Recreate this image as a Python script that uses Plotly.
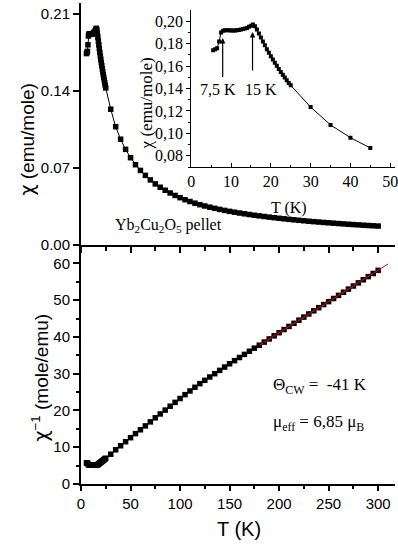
import plotly.graph_objects as go

# ---------------- data ----------------
T_low = [5.5, 6.0, 6.5, 7.0, 7.5, 8.0, 8.5, 9.0, 9.5, 10.0, 10.5, 11.0, 11.5, 12.0,
         12.5, 13.0, 13.5, 14.0, 14.5, 15.0, 15.5, 16.0, 16.5, 17.0, 17.5, 18.0,
         18.5, 19.0, 19.5, 20.0, 20.5, 21.0, 21.5, 22.0, 22.5, 23.0, 23.5, 24.0,
         24.5, 25.0]
chi_low = [0.174, 0.175, 0.176, 0.182, 0.190, 0.1915, 0.192, 0.192, 0.192, 0.1918,
           0.1918, 0.1918, 0.192, 0.1922, 0.1925, 0.193, 0.1935, 0.194, 0.195, 0.196,
           0.197, 0.1955, 0.1925, 0.189, 0.1855, 0.182, 0.1785, 0.175, 0.1718, 0.1688,
           0.1658, 0.1630, 0.1602, 0.1575, 0.1548, 0.1522, 0.1497, 0.1473, 0.1450, 0.1428]

T_high = [30, 35, 40, 45, 50, 55, 60, 65, 70, 75, 80, 85, 90, 95, 100, 105, 110, 115,
          120, 125, 130, 135, 140, 145, 150, 155, 160, 165, 170, 175, 180, 185, 190,
          195, 200, 205, 210, 215, 220, 225, 230, 235, 240, 245, 250, 255, 260, 265,
          270, 275, 280, 285, 290, 295, 300]
inv_high = [8.1, 9.3, 10.4, 11.5, 12.6, 13.7, 14.75, 15.8, 16.9, 18.0, 19.05, 20.1,
            21.15, 22.2, 23.25, 24.3, 25.3, 26.3, 27.3, 28.2, 29.1, 30.0, 30.9, 31.8,
            32.7, 33.55, 34.4, 35.25, 36.1, 36.95, 37.75, 38.6, 39.45, 40.3, 41.15,
            42.0, 42.85, 43.7, 44.55, 45.4, 46.25, 47.1, 47.95, 48.8, 49.6, 50.45,
            51.3, 52.15, 53.0, 53.85, 54.7, 55.55, 56.4, 57.25, 58.1]

# Curie-Weiss fit line (red)
fit_T = [180, 310]
fit_inv = [37.7, 59.85]

# ticks
inset_yticks = [0.08, 0.10, 0.12, 0.14, 0.16, 0.18, 0.20]
inset_ytext = ["0,08", "0,10", "0,12", "0,14", "0,16", "0,18", "0,20"]
inset_yminor = [0.07, 0.09, 0.11, 0.13, 0.15, 0.17, 0.19]
main_yticks = [0.00, 0.07, 0.14, 0.21]

# ---------------- derived ----------------
T_all = T_low + T_high
chi_all = chi_low + [1.0 / v for v in inv_high]
inv_all = [1.0 / v for v in chi_low] + inv_high
T_in = [t for t in T_all if t <= 46]
chi_in = chi_all[:len(T_in)]

W, H = 398, 545
ML, MR, MT, MB = 81, 0, 3, 61
PW, PH = W - ML - MR, H - MT - MB


def px(xp):
    return (xp - ML) / PW


def py(yp):
    return (H - MB - yp) / PH


SEP = py(245)

fig = go.Figure()

mk = dict(symbol="square", size=5.5, color="black", line=dict(width=0))
fig.add_trace(go.Scatter(x=T_all, y=inv_all, mode="lines+markers", marker=mk,
                         line=dict(color="black", width=1), xaxis="x", yaxis="y",
                         showlegend=False))
fig.add_trace(go.Scatter(x=fit_T, y=fit_inv, mode="lines",
                         line=dict(color="red", width=1), xaxis="x", yaxis="y",
                         showlegend=False))
fig.add_trace(go.Scatter(x=T_all, y=chi_all, mode="lines+markers", marker=mk,
                         line=dict(color="black", width=1), xaxis="x2", yaxis="y2",
                         showlegend=False))
fig.add_trace(go.Scatter(x=T_in, y=chi_in, mode="lines+markers",
                         marker=dict(symbol="square", size=4, color="black", line=dict(width=0)),
                         line=dict(color="black", width=1), xaxis="x4", yaxis="y4",
                         showlegend=False))

sans = "Liberation Sans"
serif = "Liberation Serif"
tf = dict(family=sans, size=15, color="black")
tfs = dict(family=serif, size=16, color="black")
ax_common = dict(showline=True, linecolor="black", linewidth=2, showgrid=False,
                 zeroline=False, tickcolor="black", tickwidth=1.5)

fig.update_layout(
    width=W, height=H, margin=dict(l=ML, r=MR, t=MT, b=MB),
    paper_bgcolor="white", plot_bgcolor="white", showlegend=False,
    xaxis=dict(**ax_common, domain=[0, 1], anchor="y", range=[0, 317],
               tickvals=[0, 50, 100, 150, 200, 250, 300], ticks="outside", ticklen=5,
               minor=dict(tickvals=[25, 75, 125, 175, 225, 275], ticks="outside", ticklen=3,
                          tickcolor="black", tickwidth=1.5),
               tickfont=tf),
    yaxis=dict(**ax_common, domain=[0, SEP], anchor="x", range=[0, 65],
               tickvals=[0, 10, 20, 30, 40, 50, 60], ticks="outside", ticklen=6,
               minor=dict(tickvals=[5, 15, 25, 35, 45, 55], ticks="outside", ticklen=3,
                          tickcolor="black", tickwidth=1.5),
               tickfont=tf),
    xaxis2=dict(**ax_common, domain=[0, 1], anchor="y2", range=[0, 317],
                tickvals=[0, 50, 100, 150, 200, 250, 300], ticks="outside", ticklen=6,
                minor=dict(tickvals=[25, 75, 125, 175, 225, 275], ticks="outside", ticklen=4,
                           tickcolor="black", tickwidth=1.5),
                showticklabels=False),
    xaxis3=dict(**ax_common, overlaying="x2", anchor="y2", side="top", range=[0, 317],
                tickvals=[0, 50, 100, 150, 200, 250, 300], ticks="inside", ticklen=6,
                minor=dict(tickvals=[25, 75, 125, 175, 225, 275], ticks="inside", ticklen=4,
                           tickcolor="black", tickwidth=1.5),
                showticklabels=False),
    yaxis2=dict(**ax_common, domain=[SEP, 1], anchor="x2", range=[0, 0.22],
                tickvals=main_yticks, tickformat=".2f", ticks="outside", ticklen=6,
                tickfont=tf),
    xaxis4=dict(**ax_common, domain=[px(192.3), 1], anchor="y4", range=[0, 51.2],
                tickvals=[0, 10, 20, 30, 40, 50], ticks="inside", ticklen=4,
                minor=dict(tickvals=[5, 15, 25, 35, 45], ticks="inside", ticklen=2,
                           tickcolor="black", tickwidth=1),
                tickfont=tfs, ticklabeloverflow="allow"),
    yaxis4=dict(**ax_common, domain=[py(167), py(10)], anchor="x4", range=[0.07, 0.21],
                tickvals=inset_yticks, ticktext=inset_ytext, ticks="outside", ticklen=4,
                minor=dict(tickvals=inset_yminor, ticks="outside", ticklen=2,
                           tickcolor="black", tickwidth=1),
                tickfont=tfs),
)
fig.layout.xaxis4.linewidth = 1.2
fig.layout.yaxis4.linewidth = 1.2
fig.layout.xaxis4.tickwidth = 1
fig.layout.yaxis4.tickwidth = 1


def ann(text, xp, yp, font, angle=0, xanchor="center"):
    fig.add_annotation(text=text, x=px(xp), y=py(yp), xref="paper", yref="paper",
                       showarrow=False, textangle=angle, font=font, xanchor=xanchor,
                       yanchor="middle")


CHI = "<span style='font-family:DejaVu Sans'>χ</span>"
ann(CHI + " (emu/mole)", 26, 140, dict(family=sans, size=19, color="black"), angle=-90)
ann(CHI + "<sup>−1</sup> (mole/emu)", 40, 377, dict(family=sans, size=19, color="black"), angle=-90)
ann("T (K)", 241, 529, dict(family=sans, size=20, color="black"))
ann("χ (emu/mole)", 147, 103, dict(family=serif, size=17, color="black"), angle=-90)
ann("T (K)", 291, 208, dict(family=serif, size=16, color="black"))
ann("7,5 K", 219, 89, dict(family=serif, size=16, color="black"))
ann("15 K", 263, 89, dict(family=serif, size=16, color="black"))
ann("Yb<sub>2</sub>Cu<sub>2</sub>O<sub>5</sub> pellet", 113, 225,
    dict(family=serif, size=16, color="black"), xanchor="left")
ann("Θ<sub>CW</sub> =  -41 K", 273, 386, dict(family=serif, size=17, color="black"), xanchor="left")
ann("μ<sub>eff</sub> = 6,85 μ<sub>B</sub>", 273, 423, dict(family=serif, size=17, color="black"),
    xanchor="left")

# arrows in inset
for xh, yh, yt in [(7.9, 0.185, 0.149), (15.4, 0.1904, 0.1547)]:
    fig.add_annotation(x=xh, y=yh, ax=xh, ay=yt, xref="x4", yref="y4", axref="x4",
                       ayref="y4", text="", showarrow=True, arrowhead=2, arrowsize=0.9,
                       arrowwidth=1.2, arrowcolor="black")

fig.write_html("out.html")
